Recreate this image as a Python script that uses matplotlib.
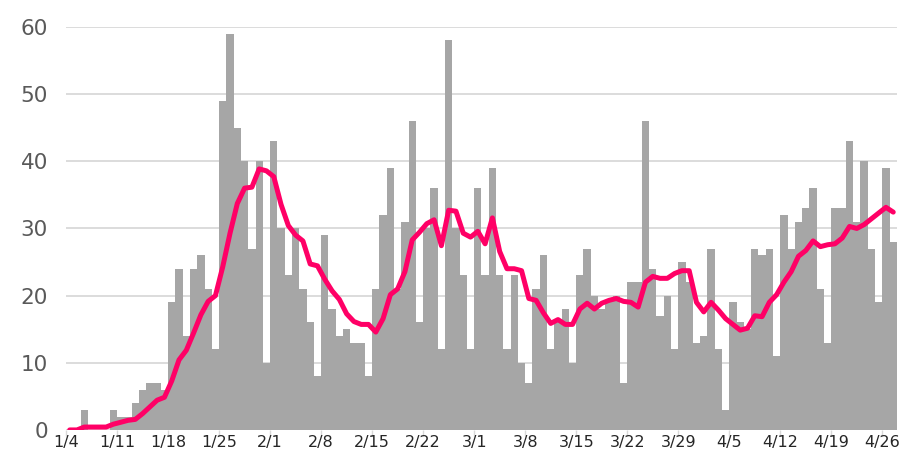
import matplotlib
matplotlib.use("Agg")
import matplotlib.pyplot as plt

# daily counts, 1/4 .. 4/27
counts = [
    0, 0, 3, 0, 0, 0, 3, 2, 2, 4, 6, 7, 7, 6,
    19, 24, 14, 24, 26, 21, 12, 49, 59, 45, 40, 27, 40, 10,
    43, 30, 23, 30, 21, 16, 8, 29, 18, 14, 15, 13, 13, 8,
    21, 32, 39, 21, 31, 46, 16, 30, 36, 12, 58, 30, 23, 12,
    36, 23, 39, 23, 12, 23, 10, 7, 21, 26, 12, 16, 18, 10,
    23, 27, 20, 18, 19, 20, 7, 22, 22, 46, 24, 17, 20, 12,
    25, 22, 13, 14, 27, 12, 3, 19, 16, 15, 27, 26, 27, 11,
    32, 27, 31, 33, 36, 21, 13, 33, 33, 43, 31, 40, 27, 19,
    39, 28,
]

# 7-day average as drawn
avg7 = [
    0, 0, 0.43, 0.43, 0.43, 0.43, 0.86, 1.14, 1.43, 1.57, 2.43, 3.43, 4.43, 4.86,
    7.29, 10.43, 11.86, 14.43, 17.14, 19.14, 20.0, 24.29, 29.29, 33.71, 36.0, 36.14, 38.86, 38.57,
    37.71, 33.57, 30.43, 29.0, 28.14, 24.71, 24.43, 22.43, 20.71, 19.43, 17.29, 16.14, 15.71, 15.71,
    14.57, 16.57, 20.14, 21.0, 23.57, 28.29, 29.43, 30.71, 31.29, 27.43, 32.71, 32.57, 29.29, 28.71,
    29.57, 27.71, 31.57, 26.57, 24.0, 24.0, 23.71, 19.57, 19.29, 17.43, 15.86, 16.43, 15.71, 15.71,
    18.0, 18.86, 18.0, 18.86, 19.29, 19.57, 19.14, 19.0, 18.29, 22.0, 22.86, 22.57, 22.57, 23.29,
    23.71, 23.71, 19.0, 17.57, 19.0, 17.86, 16.57, 15.71, 14.86, 15.14, 17.0, 16.86, 19.0, 20.14,
    22.0, 23.57, 25.86, 26.71, 28.14, 27.29, 27.57, 27.71, 28.57, 30.29, 30.0, 30.57, 31.43, 32.29,
    33.14, 32.43,
]

week_labels = ["1/4", "1/11", "1/18", "1/25", "2/1", "2/8", "2/15", "2/22",
               "3/1", "3/8", "3/15", "3/22", "3/29", "4/5", "4/12", "4/19", "4/26"]

plt.rcParams['font.family'] = ['DejaVu Sans']

fig = plt.figure(figsize=(9.11, 4.54), dpi=100)
ax = fig.add_axes([0.0725, 0.053, 0.912, 0.8877])

days = list(range(len(counts)))
ax.bar(days, counts, width=1.0, align='edge', color='#a6a6a6', zorder=2)
ax.plot([d + 0.5 for d in days], avg7, color='#ff0066', lw=3.6,
        solid_capstyle='round', solid_joinstyle='round', zorder=3)

ax.set_xlim(0, len(counts))
ax.set_ylim(0, 60)
ax.set_yticks(range(0, 61, 10))
ax.set_xticks(range(0, len(counts), 7))
ax.set_xticklabels(week_labels)

ax.grid(axis='y', color='#d9d9d9', lw=1.3, zorder=0)
for s in ax.spines.values():
    s.set_visible(False)
ax.tick_params(axis='y', length=0, labelsize=15.5, labelcolor='#595959', pad=13)
ax.tick_params(axis='x', length=4, width=1, color='#d9d9d9', labelsize=11.5,
               labelcolor='#262626', pad=0)

fig.savefig("out.png", dpi=100)
